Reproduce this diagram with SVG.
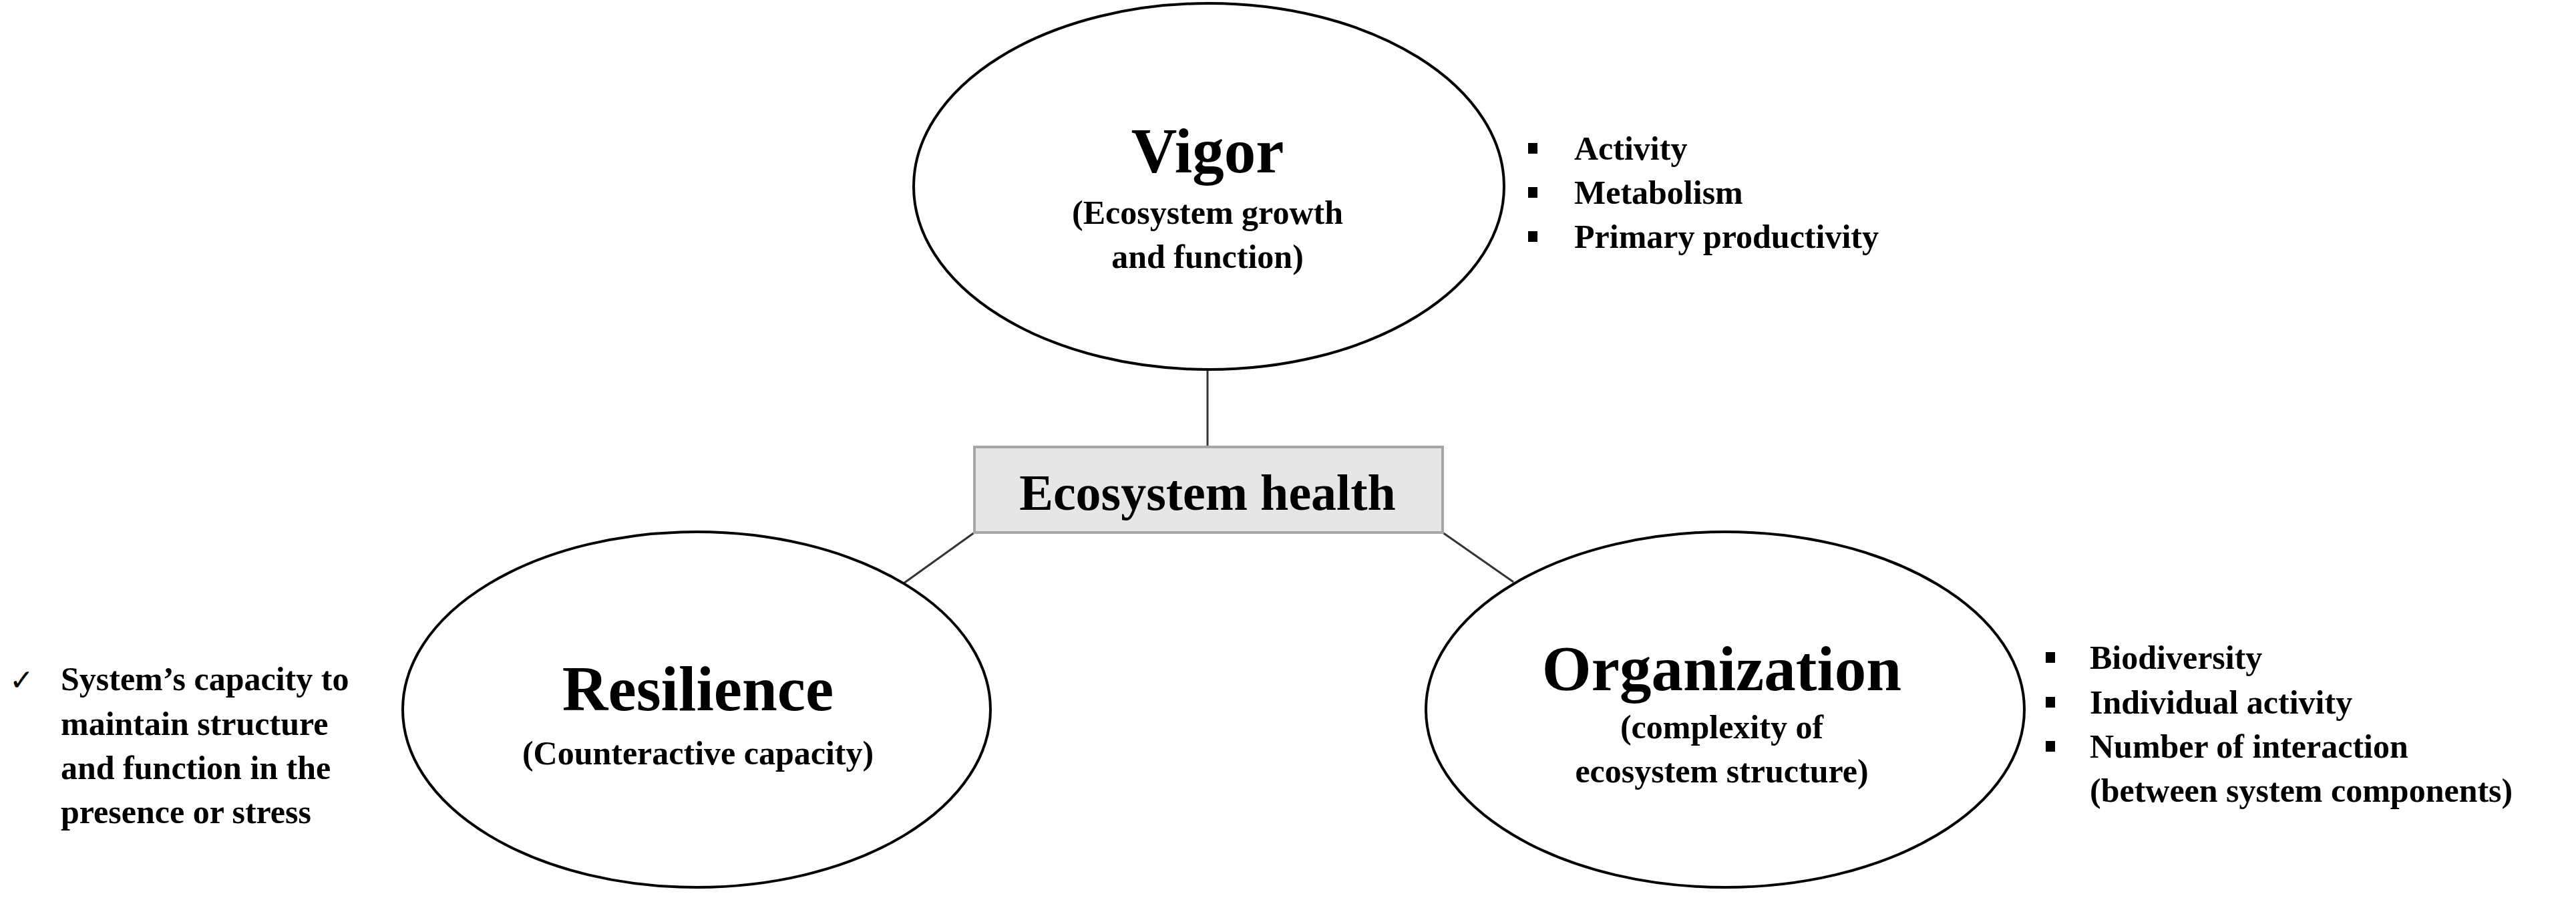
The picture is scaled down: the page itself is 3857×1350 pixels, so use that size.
<svg xmlns="http://www.w3.org/2000/svg" width="3857" height="1350" viewBox="0 0 3857 1350">
<style>
text{font-family:"Liberation Serif","Times New Roman",serif;font-weight:bold;fill:#000}
.t{font-size:95px;text-anchor:middle}
.s{font-size:50px;text-anchor:middle}
.b{font-size:50px}
.e{fill:#fff;stroke:#000;stroke-width:4}
.c{stroke:#333;stroke-width:3;fill:none}
</style>
<rect width="3857" height="1350" fill="#fff"/>
<g id="connectors">
<line class="c" x1="1808" y1="553" x2="1808" y2="669"/>
<line class="c" x1="1459" y1="797" x2="1353" y2="873"/>
<line class="c" x1="2160" y1="797" x2="2266" y2="871"/>
</g>
<g id="health">
<rect x="1459" y="669" width="701" height="128" fill="#e6e6e6" stroke="#a6a6a6" stroke-width="4"/>
<text x="1808" y="763" style="font-size:76px;text-anchor:middle">Ecosystem health</text>
</g>
<g id="vigor">
<ellipse class="e" cx="1810" cy="279" rx="442" ry="274"/>
<text class="t" x="1808" y="258">Vigor</text>
<text class="s" x="1808" y="335">(Ecosystem growth</text>
<text class="s" x="1808" y="401">and function)</text>
<rect x="2288" y="214" width="14" height="16"/>
<rect x="2288" y="280" width="14" height="16"/>
<rect x="2288" y="346" width="14" height="16"/>
<text class="b" x="2357" y="239">Activity</text>
<text class="b" x="2357" y="305">Metabolism</text>
<text class="b" x="2357" y="371">Primary productivity</text>
</g>
<g id="resilience">
<ellipse class="e" cx="1043" cy="1062" rx="440" ry="266"/>
<text class="t" x="1045" y="1063">Resilience</text>
<text class="s" x="1045" y="1144">(Counteractive capacity)</text>
<text class="b" x="14" y="1033" style="font-weight:normal;font-family:'DejaVu Sans',sans-serif;font-size:44px">✓</text>
<text class="b" x="91" y="1033">System’s capacity to</text>
<text class="b" x="91" y="1100">maintain structure</text>
<text class="b" x="91" y="1166">and function in the</text>
<text class="b" x="91" y="1232">presence or stress</text>
</g>
<g id="organization">
<ellipse class="e" cx="2583" cy="1062" rx="448" ry="266"/>
<text class="t" x="2578" y="1033">Organization</text>
<text class="s" x="2578" y="1105">(complexity of</text>
<text class="s" x="2578" y="1171">ecosystem structure)</text>
<rect x="3063" y="976" width="14" height="16"/>
<rect x="3063" y="1043" width="14" height="16"/>
<rect x="3063" y="1109" width="14" height="16"/>
<text class="b" x="3129" y="1001">Biodiversity</text>
<text class="b" x="3129" y="1068">Individual activity</text>
<text class="b" x="3129" y="1134">Number of interaction</text>
<text class="b" x="3129" y="1200">(between system components)</text>
</g>
</svg>
